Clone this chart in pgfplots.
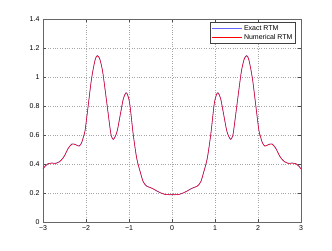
\documentclass[border=0pt]{standalone}
\usepackage{pgfplots}
\pgfplotsset{compat=1.18}
\usepackage{fontspec}
\setmainfont{Liberation Sans}
\pgfplotstableread{
x y
-3 0.366
-2.95 0.385
-2.88 0.403
-2.8 0.407
-2.7 0.405
-2.62 0.415
-2.55 0.435
-2.49 0.462
-2.42 0.505
-2.33 0.538
-2.25 0.535
-2.16 0.524
-2.1 0.548
-2.06 0.588
-2.02 0.634
-1.95 0.80
-1.87 0.99
-1.79 1.117
-1.737 1.148
-1.68 1.125
-1.62 1.05
-1.58 0.968
-1.5 0.784
-1.43 0.623
-1.4 0.585
-1.365 0.57
-1.32 0.59
-1.27 0.634
-1.19 0.76
-1.13 0.853
-1.07 0.892
-1.03 0.875
-0.98 0.81
-0.9 0.6
-0.82 0.439
-0.74 0.347
-0.67 0.278
-0.59 0.248
-0.5 0.237
-0.435 0.228
-0.36 0.215
-0.28 0.203
-0.16 0.19
0 0.188
0.16 0.19
0.28 0.203
0.36 0.215
0.435 0.228
0.5 0.237
0.59 0.248
0.67 0.278
0.74 0.347
0.82 0.439
0.9 0.6
0.98 0.81
1.03 0.875
1.07 0.892
1.13 0.853
1.19 0.76
1.27 0.634
1.32 0.59
1.365 0.57
1.4 0.585
1.43 0.623
1.5 0.784
1.58 0.968
1.62 1.05
1.68 1.125
1.737 1.148
1.79 1.117
1.87 0.99
1.95 0.80
2.02 0.634
2.06 0.588
2.1 0.548
2.16 0.524
2.25 0.535
2.33 0.538
2.42 0.505
2.49 0.462
2.55 0.435
2.62 0.415
2.7 0.405
2.8 0.407
2.88 0.403
2.95 0.385
3 0.366
}\exact
\pgfplotstableread{
x y
-3 0.366
-2.95 0.386
-2.88 0.402
-2.8 0.406
-2.7 0.404
-2.62 0.415
-2.55 0.436
-2.49 0.462
-2.42 0.505
-2.33 0.537
-2.25 0.534
-2.16 0.523
-2.1 0.548
-2.06 0.588
-2.02 0.634
-1.95 0.80
-1.87 0.99
-1.79 1.115
-1.737 1.146
-1.68 1.124
-1.62 1.05
-1.58 0.968
-1.5 0.784
-1.43 0.623
-1.4 0.585
-1.365 0.57
-1.32 0.59
-1.27 0.634
-1.19 0.76
-1.13 0.852
-1.07 0.890
-1.03 0.874
-0.98 0.81
-0.9 0.6
-0.82 0.439
-0.74 0.347
-0.67 0.278
-0.59 0.248
-0.5 0.237
-0.435 0.228
-0.36 0.215
-0.28 0.203
-0.16 0.19
0 0.188
0.16 0.19
0.28 0.203
0.36 0.215
0.435 0.228
0.5 0.237
0.59 0.248
0.67 0.278
0.74 0.347
0.82 0.439
0.9 0.6
0.98 0.81
1.03 0.874
1.07 0.890
1.13 0.852
1.19 0.76
1.27 0.634
1.32 0.59
1.365 0.57
1.4 0.585
1.43 0.623
1.5 0.784
1.58 0.968
1.62 1.05
1.68 1.124
1.737 1.146
1.79 1.115
1.87 0.99
1.95 0.80
2.02 0.634
2.06 0.588
2.1 0.548
2.16 0.523
2.25 0.534
2.33 0.537
2.42 0.505
2.49 0.462
2.55 0.436
2.62 0.415
2.7 0.404
2.8 0.406
2.88 0.402
2.95 0.386
3 0.366
}\numerical
\begin{document}
\begin{tikzpicture}[x=1pt,y=1pt]
\path[use as bounding box] (-43,-28) rectangle (289,222);
\begin{axis}[
  at={(0,0)}, anchor=south west,
  scale only axis, width=258pt, height=203pt,
  xmin=-3, xmax=3, ymin=0, ymax=1.4,
  xtick={-3,-2,...,3}, ytick={0,0.2,...,1.4},
  tick align=inside, tick style={color=black!70},
  major tick length=3pt,
  axis line style={color=black!60, line width=0.6pt},
  grid=major, grid style={dotted, color=black!35, line width=0.5pt},
  ticklabel style={font=\fontsize{7}{8}\selectfont},
  /pgf/number format/assume math mode=true,
  xticklabels={\textminus 3,\textminus 2,\textminus 1,0,1,2,3},
  yticklabels={0,0.2,0.4,0.6,0.8,1,1.2,1.4},
  legend style={at={(0.98,0.985)}, anchor=north east, draw=black!75, line width=0.6pt,
    font=\fontsize{7}{8}\selectfont, inner sep=1pt, row sep=-1.5pt,
    cells={anchor=west}},
  legend cell align=left,
]
\addplot[draw=blue!65, line width=0.6pt, smooth, forget plot] table {\exact};
\addplot[draw=red, line width=0.5pt, smooth, forget plot] table {\numerical};
\addlegendimage{legend image code/.code={\draw[draw=blue!60, line width=0.8pt] (0pt,0pt) -- (30pt,0pt);}}
\addlegendentry{Exact RTM}
\addlegendimage{legend image code/.code={\draw[draw=red, line width=0.8pt] (0pt,0pt) -- (30pt,0pt);}}
\addlegendentry{Numerical RTM}
\end{axis}
\end{tikzpicture}
\end{document}
